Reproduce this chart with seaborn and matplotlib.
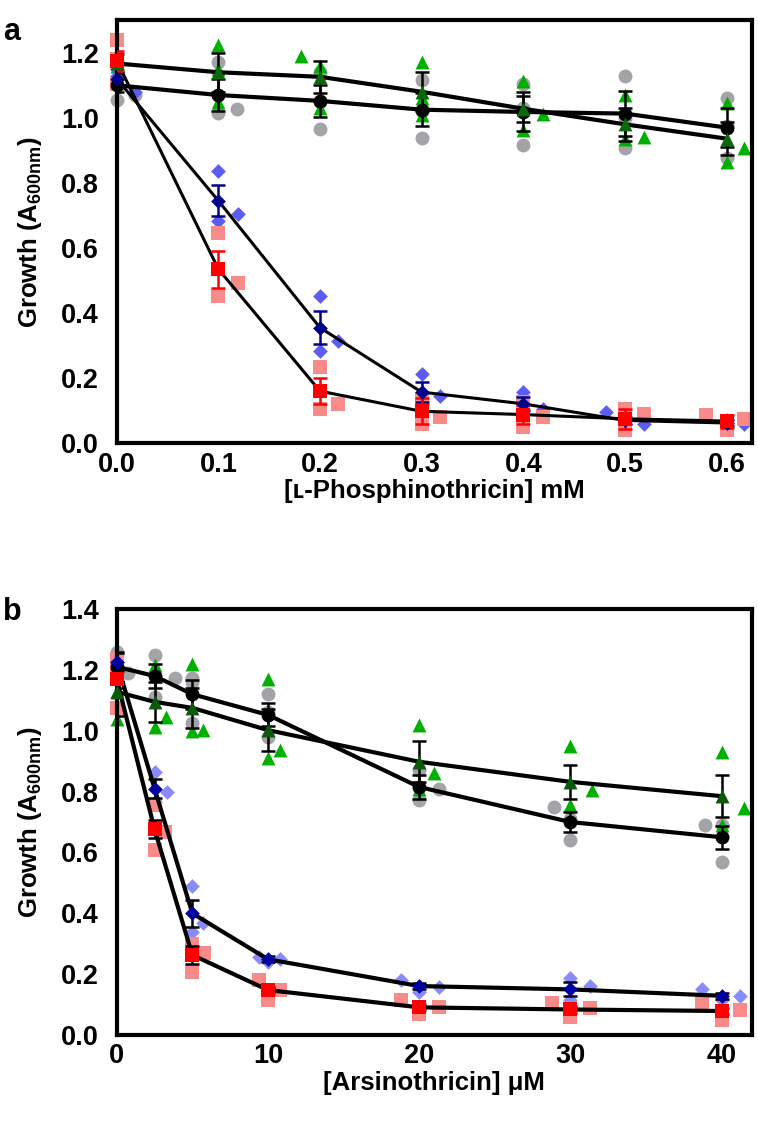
import matplotlib
matplotlib.use("Agg")
import matplotlib.pyplot as plt
import seaborn as sns
from matplotlib.ticker import MultipleLocator

# ---- panel a: L-phosphinothricin (mM) ----
conc_a = [0, 0.1, 0.2, 0.3, 0.4, 0.5, 0.6]
gray_mean_a = [1.10, 1.07, 1.052, 1.025, 1.018, 1.013, 0.97]
gray_err_a = [0.02, 0.05, 0.05, 0.05, 0.06, 0.068, 0.06]
gray_rx_a = [0, 0.018, 0, 0.1, 0.1, 0.118, 0.2, 0.2, 0.2, 0.3, 0.3, 0.3,
             0.4, 0.4, 0.4, 0.5, 0.5, 0.5, 0.6, 0.6, 0.6]
gray_ry_a = [1.055, 1.07, 1.175, 1.17, 1.015, 1.028, 1.14, 0.965, 1.05, 1.115, 0.937, 1.02,
             1.105, 0.916, 1.03, 1.13, 0.906, 1.0, 1.06, 0.975, 0.877]

green_mean_a = [1.167, 1.14, 1.126, 1.08, 1.028, 0.98, 0.936]
green_err_a = [0.03, 0.06, 0.05, 0.06, 0.04, 0.05, 0.05]
green_rx_a = [0, 0, 0, 0.1, 0.1, 0.1, 0.181, 0.2, 0.2, 0.3, 0.3, 0.3,
              0.4, 0.4, 0.419, 0.5, 0.5, 0.519, 0.6, 0.6, 0.617]
green_ry_a = [1.2, 1.14, 1.16, 1.225, 1.05, 1.15, 1.19, 1.03, 1.16, 1.17, 1.01, 1.06,
              1.114, 0.964, 1.013, 1.07, 0.934, 0.942, 1.044, 0.865, 0.906]

blue_mean_a = [1.12, 0.745, 0.355, 0.157, 0.121, 0.07, 0.062]
blue_err_a = [0.02, 0.048, 0.05, 0.03, 0.02, 0.01, 0.01]
blue_rx_a = [0, 0.018, 0, 0.1, 0.1, 0.119, 0.2, 0.2, 0.218, 0.3, 0.318, 0.3,
             0.4, 0.419, 0.4, 0.481, 0.5, 0.519, 0.6, 0.617, 0.6]
blue_ry_a = [1.13, 1.078, 1.15, 0.837, 0.683, 0.705, 0.452, 0.283, 0.314, 0.213, 0.144, 0.12,
             0.157, 0.106, 0.1, 0.095, 0.06, 0.06, 0.07, 0.06, 0.057]

red_mean_a = [1.175, 0.535, 0.16, 0.098, 0.088, 0.075, 0.068]
red_err_a = [0.03, 0.057, 0.04, 0.04, 0.03, 0.03, 0.02]
red_rx_a = [0, 0, 0, 0.1, 0.1, 0.119, 0.2, 0.2, 0.218, 0.3, 0.3, 0.318,
            0.4, 0.4, 0.419, 0.5, 0.5, 0.519, 0.58, 0.617, 0.6]
red_ry_a = [1.24, 1.18, 1.105, 0.646, 0.452, 0.493, 0.234, 0.105, 0.121, 0.136, 0.06, 0.08,
            0.126, 0.049, 0.08, 0.106, 0.04, 0.09, 0.087, 0.074, 0.04]

# ---- panel b: arsinothricin (uM) ----
conc_b = [0, 2.5, 5, 10, 20, 30, 40]
gray_mean_b = [1.21, 1.18, 1.12, 1.052, 0.815, 0.70, 0.65]
gray_err_b = [0.05, 0.04, 0.047, 0.038, 0.038, 0.032, 0.038]
gray_rx_b = [0, 0.75, 0, 2.5, 2.5, 3.84, 5, 5, 5, 10, 10, 10,
             20, 20, 21.3, 28.9, 30, 30, 38.9, 40, 40]
gray_ry_b = [1.26, 1.19, 1.18, 1.249, 1.112, 1.173, 1.173, 1.025, 1.16, 1.12, 0.98, 1.06,
             0.871, 0.772, 0.81, 0.75, 0.641, 0.71, 0.69, 0.57, 0.69]

green_mean_b = [1.128, 1.095, 1.075, 1.002, 0.898, 0.832, 0.785]
green_err_b = [0.08, 0.065, 0.065, 0.07, 0.068, 0.056, 0.07]
green_rx_b = [0, 0, 0, 2.5, 2.5, 3.25, 5, 5, 5.7, 10, 10, 10.8,
              20, 20, 21, 30, 30, 31.4, 40, 41.5, 40]
green_ry_b = [1.04, 1.13, 1.21, 1.216, 1.013, 1.046, 1.219, 1.0, 1.002, 1.17, 0.909, 0.937,
              1.019, 0.81, 0.86, 0.95, 0.756, 0.805, 0.93, 0.745, 0.69]

blue_mean_b = [1.225, 0.81, 0.40, 0.249, 0.161, 0.15, 0.129]
blue_err_b = [0.03, 0.03, 0.045, 0.01, 0.01, 0.023, 0.01]
blue_rx_b = [0, 0, 0, 2.5, 3.3, 2.5, 5, 5.7, 5, 9.4, 10, 10.8,
             18.8, 20, 21.3, 30, 30, 31.3, 38.7, 40, 41.2]
blue_ry_b = [1.25, 1.2, 1.225, 0.865, 0.80, 0.765, 0.49, 0.367, 0.34, 0.257, 0.24, 0.25,
             0.18, 0.14, 0.159, 0.186, 0.115, 0.161, 0.15, 0.115, 0.128]

red_mean_b = [1.17, 0.676, 0.263, 0.148, 0.091, 0.084, 0.079]
red_err_b = [0.03, 0.03, 0.03, 0.01, 0.01, 0.01, 0.01]
red_rx_b = [0, 0, 0, 2.5, 3.2, 2.5, 5, 5, 5.8, 9.4, 10, 10.8,
            18.8, 20, 21.3, 28.8, 31.3, 30, 38.7, 40, 41.2]
red_ry_b = [1.075, 1.2, 1.235, 0.608, 0.668, 0.756, 0.30, 0.208, 0.27, 0.18, 0.115, 0.148,
            0.115, 0.07, 0.092, 0.106, 0.09, 0.06, 0.106, 0.05, 0.083]

sns.set_style("white")
plt.rcParams["font.family"] = ["Liberation Sans", "DejaVu Sans"]
plt.rcParams["font.weight"] = "bold"
plt.rcParams["axes.labelweight"] = "bold"
plt.rcParams["text.color"] = "black"
plt.rcParams["axes.labelcolor"] = "black"
plt.rcParams["xtick.color"] = "black"
plt.rcParams["ytick.color"] = "black"

fig = plt.figure(figsize=(7.58, 11.22), dpi=100)
ax_a = fig.add_axes([0.154, 0.605, 0.838, 0.377])
ax_b = fig.add_axes([0.154, 0.0775, 0.838, 0.3797])


def draw_series(ax, conc, mean, err, rx, ry, rep_color, mean_color, marker,
                err_color, lw, ms):
    sns.scatterplot(x=rx, y=ry, ax=ax, color=rep_color, marker=marker, s=ms ** 2,
                    linewidth=0, zorder=2, clip_on=False)
    sns.lineplot(x=conc, y=mean, ax=ax, color="black", lw=lw, zorder=3,
                 estimator=None, sort=False)
    ax.errorbar(conc, mean, yerr=err, fmt="none", ecolor=err_color, elinewidth=1.8,
                capsize=5, capthick=1.8, zorder=4)
    sns.scatterplot(x=conc, y=mean, ax=ax, color=mean_color, marker=marker, s=ms ** 2,
                    linewidth=0, zorder=5, clip_on=False)


# panel a
draw_series(ax_a, conc_a, gray_mean_a, gray_err_a, gray_rx_a, gray_ry_a,
            "#a3a3a8", "black", "o", "black", 3, 10)
draw_series(ax_a, conc_a, green_mean_a, green_err_a, green_rx_a, green_ry_a,
            "#00b000", "#0a6a0a", "^", "black", 3, 10)
draw_series(ax_a, conc_a, blue_mean_a, blue_err_a, blue_rx_a, blue_ry_a,
            "#5c5cf5", "#00008b", "D", "#00008b", 2.2, 7.5)
draw_series(ax_a, conc_a, red_mean_a, red_err_a, red_rx_a, red_ry_a,
            "#f88a8a", "#ff0000", "s", "#ff0000", 2.2, 9.5)

# panel b
draw_series(ax_b, conc_b, gray_mean_b, gray_err_b, gray_rx_b, gray_ry_b,
            "#a3a3a8", "black", "o", "black", 3, 10)
draw_series(ax_b, conc_b, green_mean_b, green_err_b, green_rx_b, green_ry_b,
            "#00b000", "#0a5a0a", "^", "black", 3, 10)
draw_series(ax_b, conc_b, blue_mean_b, blue_err_b, blue_rx_b, blue_ry_b,
            "#8a8aff", "#0000a0", "D", "black", 3, 7.5)
draw_series(ax_b, conc_b, red_mean_b, red_err_b, red_rx_b, red_ry_b,
            "#f88a8a", "#ff0000", "s", "black", 3, 9.5)

ax_a.set_xlim(0, 0.625)
ax_a.set_ylim(0, 1.3)
ax_a.xaxis.set_minor_locator(MultipleLocator(0.05))
ax_a.yaxis.set_minor_locator(MultipleLocator(0.1))
ax_a.set_xticks([0, 0.1, 0.2, 0.3, 0.4, 0.5, 0.6])
ax_a.set_xticklabels(["0.0", "0.1", "0.2", "0.3", "0.4", "0.5", "0.6"])
ax_a.set_yticks([0, 0.2, 0.4, 0.6, 0.8, 1.0, 1.2])
ax_a.set_yticklabels(["0.0", "0.2", "0.4", "0.6", "0.8", "1.0", "1.2"])
ax_a.set_xlabel("[\u029f-Phosphinothricin] mM", fontsize=18.5, labelpad=1)

ax_b.set_xlim(0, 42)
ax_b.set_ylim(0, 1.4)
ax_b.xaxis.set_minor_locator(MultipleLocator(2))
ax_b.yaxis.set_minor_locator(MultipleLocator(0.1))
ax_b.set_xticks([0, 10, 20, 30, 40])
ax_b.set_yticks([0, 0.2, 0.4, 0.6, 0.8, 1.0, 1.2, 1.4])
ax_b.set_yticklabels(["0.0", "0.2", "0.4", "0.6", "0.8", "1.0", "1.2", "1.4"])
ax_b.set_xlabel("[Arsinothricin] \u03bcM", fontsize=18.5, labelpad=1)

for ax in (ax_a, ax_b):
    ax.set_ylabel("Growth (A$_\\mathregular{600nm}$)", fontsize=18.5, labelpad=12)
    ax.tick_params(which="major", direction="in", length=10, width=2.5,
                   labelsize=19.5)
    ax.tick_params(axis="x", which="major", pad=6)
    ax.tick_params(axis="y", which="major", pad=13)
    ax.tick_params(which="minor", direction="in", length=6, width=2.5)
    for sp in ax.spines.values():
        sp.set_linewidth(3)
        sp.set_color("black")

fig.text(0.004, 0.985, "a", fontsize=22, fontweight="bold", va="top")
fig.text(0.004, 0.468, "b", fontsize=22, fontweight="bold", va="top")

fig.savefig("out.png", dpi=100)
